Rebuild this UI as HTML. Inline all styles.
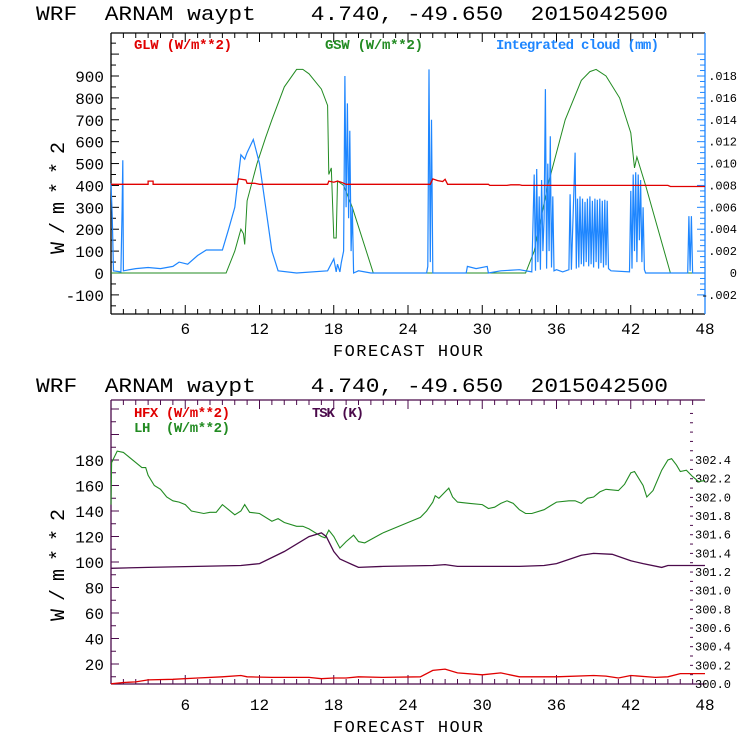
<!DOCTYPE html>
<html><head><meta charset="utf-8"><style>
body{margin:0;background:#fff;width:740px;height:740px;overflow:hidden}
svg{display:block}
text{font-family:"Liberation Mono",monospace;white-space:pre}
</style></head><body>
<svg id="c" width="740" height="740" xmlns="http://www.w3.org/2000/svg" xml:space="preserve"></svg>
<script>
// ---- Top chart data ----
const glwPts=[[0,405],[3,405],[3,420],[3.4,420],[3.4,405],[10.2,405],[10.3,430],[10.9,425],[11,410],[11.6,410],[12,405],[17.5,405],[17.6,420],[18,415],[18.3,420],[18.6,415],[19,405],[25.8,405],[26,430],[26.4,422],[26.8,418],[27,428],[27.2,405],[30.5,405],[30.6,400],[32,400],[32.3,403],[33,403],[33.2,400],[45,400],[45.2,395],[48,395]];
const gswPts=[[0,0],[9.3,0],[10,100],[10.5,200],[10.7,180],[10.8,130],[11,330],[11.8,500],[12.5,620],[13,700],[14,850],[15,930],[15.5,930],[16,910],[17,840],[17.5,765],[17.6,450],[17.8,480],[18,160],[18.2,160],[18.3,420],[18.8,400],[19.5,300],[21.2,0],[33.5,0],[34.2,100],[35.3,400],[36.7,700],[38,880],[38.7,920],[39.2,930],[40,900],[41.1,800],[42,640],[42.3,480],[42.5,530],[43.2,400],[45.2,0],[48,0]];
const cloudPts=[[0,0.0082],[0.1,0.0053],[0.2,0.0002],[0.8,0.0001],[0.9,0.0058],[0.95,0.0103],[1,0.0002],[2,0.0004],[3,0.0005],[4,0.0004],[5,0.0006],[5.5,0.001],[6.2,0.0008],[7,0.0016],[7.7,0.0021],[9,0.0021],[9.5,0.004],[10,0.006],[10.5,0.0108],[10.8,0.0104],[11,0.011],[11.5,0.0122],[12,0.01],[12.5,0.006],[13,0.002],[13.5,0.0002],[15,0],[17.5,0.0002],[18,0.0013],[18.2,0.0001],[18.3,0.0008],[18.5,0.0001],[18.6,0.0009],[18.8,0.002],[18.9,0.018],[19,0.006],[19.1,0.0155],[19.2,0.005],[19.3,0.013],[19.4,0.002],[19.5,0.006],[19.6,0],[20,0.0002],[21,0],[25.5,0],[25.6,0.0006],[25.7,0.0186],[25.8,0.001],[25.9,0.014],[26,0],[28.7,0],[28.8,0.0006],[29.5,0.0004],[30.4,0.0006],[30.5,0],[31.5,0.0002],[33,0.0003],[34,0.0001],[34.2,0.009],[34.3,0.0002],[34.4,0.0095],[34.5,0.001],[34.6,0.007],[34.7,0.0003],[34.8,0.0085],[34.9,0.002],[35,0.005],[35.1,0.0168],[35.2,0.0004],[35.3,0.01],[35.4,0.002],[35.5,0.0125],[35.6,0.0005],[35.7,0.007],[35.8,0.0002],[36,0.0003],[36.5,0.0001],[37,0.0003],[37.1,0.0072],[37.2,0.0003],[37.5,0.011],[37.6,0.0004],[37.7,0.0068],[37.8,0.0005],[37.9,0.007],[38,0.0008],[38.1,0.0068],[38.2,0.0006],[38.3,0.0065],[38.4,0.001],[38.5,0.0068],[38.6,0.0006],[38.7,0.007],[38.8,0.0008],[38.9,0.0066],[39,0.0005],[39.1,0.0068],[39.2,0.001],[39.3,0.0067],[39.4,0.0004],[39.5,0.0068],[39.6,0.0009],[39.7,0.0066],[39.8,0.0005],[39.9,0.0067],[40,0.0007],[40.1,0.0066],[40.2,0.0004],[40.4,0.0002],[41.9,0.0001],[42,0.0075],[42.1,0.0004],[42.2,0.009],[42.3,0.002],[42.4,0.0092],[42.5,0.001],[42.6,0.009],[42.7,0.003],[42.8,0.0085],[42.9,0.001],[43,0.006],[43.1,0.0003],[43.2,0],[46.6,0],[46.7,0.0052],[46.8,0.0002],[46.9,0.0052],[47,0],[48,0]];
const topLeftTicks=[-100,0,100,200,300,400,500,600,700,800,900];
const topRightTicks=[-0.002,0,0.002,0.004,0.006,0.008,0.010,0.012,0.014,0.016,0.018];
const topRightLabels=["-.002","0",".002",".004",".006",".008",".010",".012",".014",".016",".018"];
const xTicks=[6,12,18,24,30,36,42,48];
// ---- Bottom chart data ----
const lhPts=[[0,145],[0.05,178],[0.5,187],[1,186],[2,178],[2.5,174],[2.8,174],[3,168],[3.5,160],[4,157],[4.5,151],[5,148],[5.5,147],[6,145],[6.5,140],[7.5,138],[8,139],[8.5,139],[9,145],[9.5,141],[10,137],[10.5,140],[10.8,145],[11.2,139],[12,138],[13,132],[13.5,134],[14,131],[15,128],[15.5,128],[16,126],[17,120],[17.3,119],[17.6,125],[18,120],[18.5,111],[19,116],[19.6,121],[20,116],[20.5,115],[22,123],[24,131],[25,135],[25.5,140],[26,147],[26.2,152],[26.5,150],[27,155],[27.3,158],[27.6,151],[28,147],[29,146],[30,145],[30.5,142],[31,143],[31.5,146],[32,148],[32.5,146],[33,141],[33.5,138],[34,138],[35,141],[35.5,144],[36,147],[37,148],[37.5,148],[38,146],[38.5,150],[39,151],[39.5,155],[40,157],[41,156],[41.5,161],[42,170],[42.3,171],[43,160],[43.3,151],[43.8,156],[44.5,172],[45,180],[45.3,181],[45.7,176],[46,171],[46.5,172],[47,167],[47.5,163],[48,164]];
const hfxPts=[[0,4.5],[1,5.5],[2,6],[3,7.5],[5,8],[7,9],[9,10],[10.5,11],[11,10],[13,9.5],[16,9.5],[17,8.5],[18,9],[19,9],[20,10],[22,9.5],[25,10],[26,15],[27,16],[28,13],[30,11.5],[31.5,13],[33,10],[36,10],[39,11],[40,10.5],[41,9],[42,11],[44,9.5],[45,10],[46,12.5],[48,12.5]];
const tskPts=[[0,301.24],[3,301.25],[10.5,301.27],[12,301.29],[14,301.42],[16,301.58],[17,301.62],[17.4,301.58],[18,301.42],[18.5,301.34],[19,301.31],[19.5,301.28],[20,301.25],[22,301.26],[26,301.27],[27,301.28],[28,301.26],[33,301.26],[35,301.27],[36,301.29],[38,301.38],[39,301.40],[40.5,301.39],[42,301.32],[43,301.29],[44.5,301.25],[45,301.27],[48,301.27]];
const botLeftTicks=[20,40,60,80,100,120,140,160,180];
const botRightTicks=[300.0,300.2,300.4,300.6,300.8,301.0,301.2,301.4,301.6,301.8,302.0,302.2,302.4];

const svg=document.getElementById('c');
const NS='http://www.w3.org/2000/svg';
function mk(tag,attrs,parent){const e=document.createElementNS(NS,tag);for(const k in attrs)e.setAttribute(k,attrs[k]);(parent||svg).appendChild(e);return e;}
function txt(s,x,y,size,fill,anchor,parent){const t=mk('text',{x:x,y:y,'font-size':size,fill:fill,'text-anchor':anchor||'start'},parent);t.textContent=s;return t;}

const X0=111,X1=705;
const xs=h=>X0+(h/48)*(X1-X0);
const ty=v=>273-v*0.2189;
const tyr=v=>273-v*(197/0.018);
const by=v=>689.5-v*1.275;
const byr=k=>684-(k-300)*93.3;

function drawFrame(top,bot,color,rightColor,rightLine,gname){
  const g=mk('g',{});
  
  
  mk('line',{x1:X0,y1:top,x2:X0,y2:bot,stroke:color,'stroke-width':1.3},g);
  mk('line',{x1:X0,y1:top,x2:X1,y2:top,stroke:color,'stroke-width':1.3},g);
  mk('line',{x1:X0,y1:bot,x2:X1,y2:bot,stroke:color,'stroke-width':1.3},g);
  if(rightLine)mk('line',{x1:X1,y1:top,x2:X1,y2:bot,stroke:rightColor,'stroke-width':1.3},g);
  for(let h=1;h<48;h++){
    const L=(h%6===0)?9:5;
    mk('line',{x1:xs(h),y1:bot,x2:xs(h),y2:bot-L,stroke:color},g);
    mk('line',{x1:xs(h),y1:top,x2:xs(h),y2:top+L,stroke:color},g);
  }
  return g;
}
function titleAndX(yTitle,yLabels,gname){
  const g=mk('g',{});
  
  
  const t=txt('WRF  ARNAM waypt    4.740, -49.650  2015042500',36,yTitle,20,'#000','start',g);
  t.setAttribute('textLength','632');
  t.setAttribute('lengthAdjust','spacingAndGlyphs');
  xTicks.forEach(h=>{txt(String(h),xs(h),yLabels,16,'#000','middle',g);});
  const f=txt('FORECAST HOUR',408,yLabels+22,17,'#000','middle',g);
  f.setAttribute('textLength','150');
  return g;
}
function line(pts,fx,fy,color,name,w){
  const d=pts.map((p,i)=>(i?'L':'M')+fx(p[0]).toFixed(1)+','+fy(p[1]).toFixed(1)).join('');
  const p=mk('path',{d:d,fill:'none',stroke:color,'stroke-width':w||1.2});
  
  
}

// ===== Top chart =====
titleAndX(20,334,'top-title-and-x-axis');
drawFrame(33,314,'#000','#1e86ff',true,'top-frame');
const tl=mk('g',{});


for(let v=-150;v<=1050;v+=50){const y=ty(v);if(y<35||y>312)continue;mk('line',{x1:X0,y1:y,x2:X0+(v%100===0?8:5),y2:y,stroke:'#000'},tl);}
topLeftTicks.forEach(v=>txt(String(v),104,ty(v)+6,16,'#000','end',tl));
const trr=mk('g',{});


for(let i=-4;i<=40;i++){const v=i*0.0005;const y=tyr(v);if(y<35||y>312)continue;mk('line',{x1:X1,y1:y,x2:X1-(i%4===0?8:5),y2:y,stroke:'#1e86ff'},trr);}
topRightTicks.forEach((v,i)=>txt(topRightLabels[i],737,tyr(v)+4,12,'#000','end',trr));
const yl1=txt('W/m**2',0,0,20,'#000','middle');
yl1.setAttribute('transform','translate(64,198) rotate(-90)');
yl1.setAttribute('textLength','112');


line(gswPts,xs,ty,'#228b22','gsw-line',1);
line(cloudPts,xs,tyr,'#1e86ff','cloud-line',1.2);
line(glwPts,xs,ty,'#e00000','glw-line',1.3);
const lg1=mk('g',{});


[['GLW (W/m**2)',134,'#e00000',98],['GSW (W/m**2)',325,'#228b22',98],['Integrated cloud (mm)',496,'#1e86ff',163]].forEach(a=>{const t=txt(a[0],a[1],49,14,a[2],'start',lg1);t.setAttribute('font-family','"Liberation Serif",serif');t.setAttribute('font-weight','bold');t.setAttribute('textLength',a[3]);});

// ===== Bottom chart =====
titleAndX(392,710,'bottom-title-and-x-axis');
drawFrame(400,684,'#4b0a4b','#4b0a4b',false,'bottom-frame');
const bl=mk('g',{});


for(let v=10;v<=220;v+=10){const y=by(v);if(y<402||y>682)continue;mk('line',{x1:X0,y1:y,x2:X0+(v%20===0?8:5),y2:y,stroke:'#4b0a4b'},bl);}
botLeftTicks.forEach(v=>txt(String(v),104,by(v)+6,16,'#000','end',bl));
const br=mk('g',{});


for(let i=0;i<=30;i++){const k=300+i*0.1;const y=byr(k);if(y<405)continue;mk('line',{x1:690,y1:y,x2:693,y2:y,stroke:'#4b0a4b'},br);}
botRightTicks.forEach(k=>txt(k.toFixed(1),695,byr(k)+4,12,'#000','start',br));
const yl2=txt('W/m**2',0,0,20,'#000','middle');
yl2.setAttribute('transform','translate(64,565) rotate(-90)');
yl2.setAttribute('textLength','112');


line(lhPts,xs,by,'#228b22','lh-line',1.1);
line(tskPts,xs,byr,'#4b0a4b','tsk-line',1.3);
line(hfxPts,xs,by,'#e00000','hfx-line',1.3);
const lg2=mk('g',{});


[['HFX (W/m**2)',134,417,'#e00000',96],['LH  (W/m**2)',134,432,'#228b22',96],['TSK (K)',312,417,'#4b0a4b',52]].forEach(a=>{const t=txt(a[0],a[1],a[2],14,a[3],'start',lg2);t.setAttribute('font-family','"Liberation Serif",serif');t.setAttribute('font-weight','bold');t.setAttribute('textLength',a[4]);});
</script>
</body></html>
